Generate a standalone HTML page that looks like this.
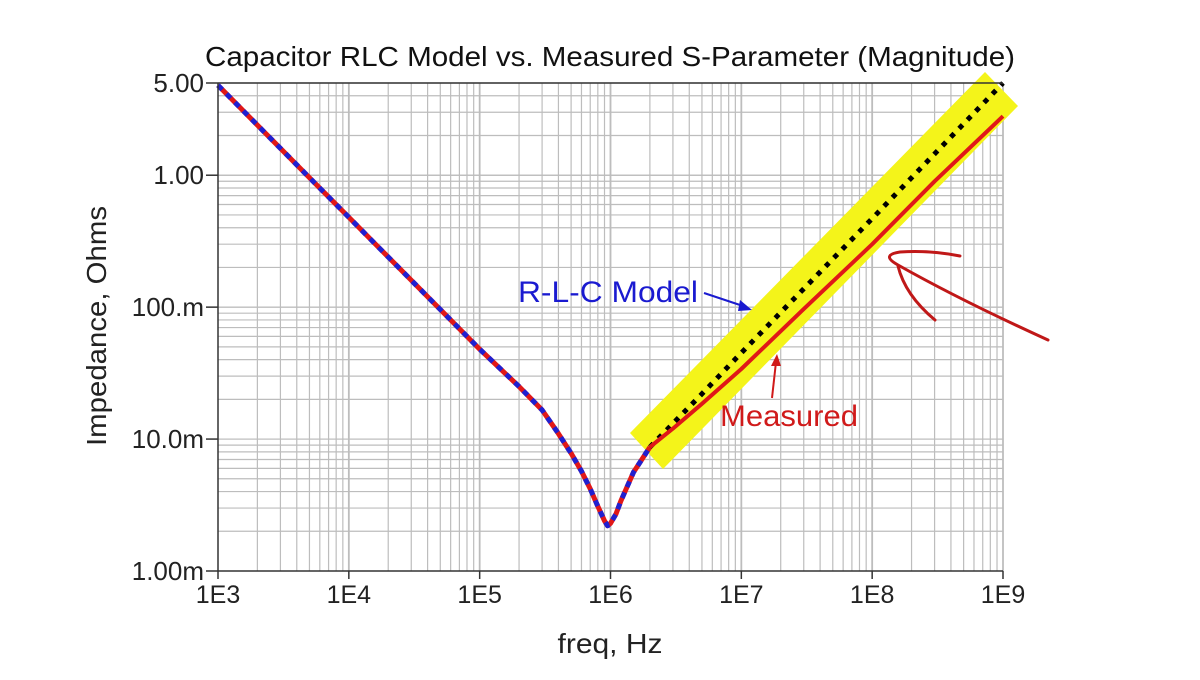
<!DOCTYPE html>
<html><head><meta charset="utf-8"><style>
body{margin:0;background:#fff;font-family:"Liberation Sans",sans-serif}
svg text{font-family:"Liberation Sans",sans-serif}
</style></head><body>
<svg id="chart" width="1200" height="675" viewBox="0 0 1200 675">
<text x="610" y="66" font-size="28" text-anchor="middle" fill="#111" textLength="810" lengthAdjust="spacingAndGlyphs">Capacitor RLC Model vs. Measured S-Parameter (Magnitude)</text>
<g id="grid"></g>
<polygon points="630,433 985,72 1018,106 663,469" fill="#f4f41a"/>
<g id="series"></g>
<g id="axes"></g>
<text x="518" y="302" font-size="30" fill="#1a1ad0" textLength="180" lengthAdjust="spacingAndGlyphs">R-L-C Model</text>
<path d="M704 293 L746 307" stroke="#1a1ad0" stroke-width="2" fill="none"/>
<polygon points="752,310 740,300 738,311" fill="#1a1ad0"/>
<text x="720" y="426" font-size="30" fill="#d01a1a" textLength="138" lengthAdjust="spacingAndGlyphs">Measured</text>
<path d="M772 398 L776 362" stroke="#d01a1a" stroke-width="2" fill="none"/>
<polygon points="777,354 771,366 781,366" fill="#d01a1a"/>
<path d="M1048 340 Q960 300 898 265 Q880 255 900 252 Q930 250 960 256 M898 266 Q905 295 935 320" stroke="#c01818" stroke-width="3" fill="none" stroke-linecap="round"/>
<text x="610" y="653" font-size="28" text-anchor="middle" fill="#222" textLength="105" lengthAdjust="spacingAndGlyphs">freq, Hz</text>
<text transform="translate(106,326) rotate(-90)" font-size="28" text-anchor="middle" fill="#222" textLength="240" lengthAdjust="spacingAndGlyphs">Impedance, Ohms</text>
</svg>
<script>
const lowFreq=[1e3,2e3,5e3,1e4,2e4,5e4,1e5,2e5,3e5,4e5,5e5,6e5,7e5,8e5,9e5,9.5e5,1e6,1.1e6,1.2e6,1.5e6,2e6];
const lowZ=[4.8,2.4,0.96,0.48,0.24,0.096,0.048,0.025,0.0166,0.011,0.0078,0.0057,0.0042,0.0031,0.0024,0.0022,0.0023,0.0027,0.0034,0.0056,0.0087];
const modelFreq=[2e6,5e6,1e7,1e8,1e9];
const modelZ=[0.0087,0.022,0.045,0.47,5.0];
const measFreq=[2e6,3e6,5e6,1e7,3e7,1e8,3e8,1e9];
const measZ=[0.0087,0.012,0.0185,0.034,0.097,0.3,0.9,2.8];
const xTicks=[1e3,1e4,1e5,1e6,1e7,1e8,1e9];
const xTickLabels=["1E3","1E4","1E5","1E6","1E7","1E8","1E9"];
const yTicks=[0.001,0.01,0.1,1,5];
const yTickLabels=["1.00m","10.0m","100.m","1.00","5.00"];
const X0=218,X1=1003,Y1=83,Y0=571;
const xs=f=>X0+(Math.log10(f)-3)/6*(X1-X0);
const ys=v=>Y0-(Math.log10(v)+3)/Math.log10(5000)*(Y0-Y1);
const NS="http://www.w3.org/2000/svg";
function mk(tag,attrs,parent){const e=document.createElementNS(NS,tag);for(const k in attrs)e.setAttribute(k,attrs[k]);parent.appendChild(e);return e;}
const grid=document.getElementById('grid'),axes=document.getElementById('axes'),ser=document.getElementById('series');
for(let d=3;d<9;d++)for(let m=1;m<=10;m++){const f=m*Math.pow(10,d);if(m==1&&d==3)continue;
 const l=mk('line',{x1:xs(f),x2:xs(f),y1:Y1,y2:Y0,stroke:'#bdbdbd','stroke-width':m==10?1.8:1.2},grid);
 }
for(let d=-3;d<1;d++)for(let m=1;m<=10;m++){const v=m*Math.pow(10,d);if(v>5||(m==1&&d==-3))continue;
 const l=mk('line',{x1:X0,x2:X1,y1:ys(v),y2:ys(v),stroke:'#bdbdbd','stroke-width':1.2},grid);
 }
mk('line',{x1:X0,x2:X0,y1:Y1,y2:Y0,stroke:'#333','stroke-width':1.5},axes);
mk('line',{x1:X0,x2:X1,y1:Y0,y2:Y0,stroke:'#333','stroke-width':1.5},axes);
mk('line',{x1:X0,x2:X1,y1:Y1,y2:Y1,stroke:'#333','stroke-width':1.5},axes);
xTicks.forEach((f,i)=>{mk('line',{x1:xs(f),x2:xs(f),y1:Y0,y2:Y0+8,stroke:'#333','stroke-width':1.5},axes);
 const t=mk('text',{x:xs(f),y:Y0+32,'font-size':25,'text-anchor':'middle',fill:'#222'},axes);t.textContent=xTickLabels[i];
 });
yTicks.forEach((v,i)=>{mk('line',{x1:X0-12,x2:X0,y1:ys(v),y2:ys(v),stroke:'#333','stroke-width':1.5},axes);
 const t=mk('text',{x:X0-14,y:ys(v)+9,'font-size':26,'text-anchor':'end',fill:'#222'},axes);t.textContent=yTickLabels[i];
 });
const pts=(F,Z)=>F.map((f,i)=>xs(f).toFixed(1)+','+ys(Z[i]).toFixed(1)).join(' ');
const a=mk('polyline',{points:pts(lowFreq,lowZ),fill:'none',stroke:'#e01818','stroke-width':5,'stroke-linejoin':'round'},ser);

const b=mk('polyline',{points:pts(lowFreq,lowZ),fill:'none',stroke:'#2020d0','stroke-width':5,'stroke-dasharray':'6 6','stroke-linejoin':'round'},ser);

const c=mk('polyline',{points:pts(modelFreq,modelZ),fill:'none',stroke:'#000','stroke-width':5,'stroke-dasharray':'5 7'},ser);

const d=mk('polyline',{points:pts(measFreq,measZ),fill:'none',stroke:'#e01818','stroke-width':4,'stroke-linejoin':'round'},ser);

</script>
</body></html>
